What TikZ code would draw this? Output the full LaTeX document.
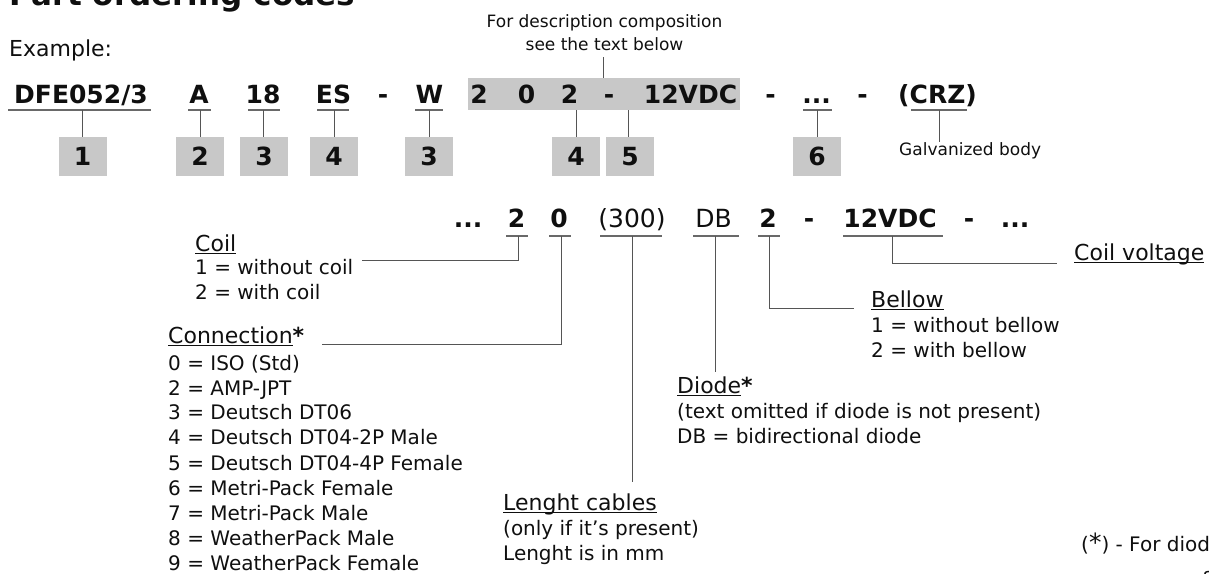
\documentclass[tikz,border=0pt]{standalone}
\usepackage{fontspec}
\setmainfont{DejaVu Sans}
\definecolor{boxgray}{RGB}{200,200,200}
\definecolor{linegray}{RGB}{85,85,85}
\definecolor{ulgray}{RGB}{105,105,105}
\definecolor{txt}{RGB}{15,15,15}
\newcommand\myuline[1]{\setbox0\hbox{#1}\rlap{\rule[-3pt]{\wd0}{1.1pt}}\box0}
\begin{document}
\begin{tikzpicture}[x=1pt,y=-1pt,text=txt,
  code/.style={font=\fontsize{25}{30}\selectfont\bfseries, inner sep=0pt, anchor=base},
  codereg/.style={font=\fontsize{25}{30}\selectfont, inner sep=0pt, anchor=base},
  numbox/.style={fill=boxgray, minimum width=48pt, minimum height=39pt, inner sep=0pt, font=\fontsize{25}{30}\selectfont\bfseries},
  conn/.style={draw=linegray, line width=0.9pt},
  uline/.style={draw=ulgray, line width=1.3pt},
  head/.style={font=\fontsize{22}{26}\selectfont, inner sep=0pt, anchor=base west},
  item/.style={font=\fontsize{20}{25}\selectfont, inner sep=0pt, anchor=base west},
  small/.style={font=\fontsize{17}{20}\selectfont, inner sep=0pt},
]
\useasboundingbox (0,0) rectangle (1209,573);

% title and example
\node[anchor=base west, inner sep=0pt, font=\fontsize{31}{36}\selectfont\bfseries] (title) at (9,5) {Part ordering codes};
\node[head] (example) at (9,56) {Example:};

% description note
\node[small, anchor=base] (desc1) at (604.5,27) {For description composition};
\node[small, anchor=base] (desc2) at (604.5,50) {see the text below};

% gray band
\node[fill=boxgray, minimum width=272pt, minimum height=32pt, inner sep=0pt, anchor=north west] (band) at (468,78) {};
\coordinate (descend) at (603,57);
\draw[conn] (descend) -- (descend |- band.north);

% first code line
\node[code] (cDFE) at (81,103) {DFE052/3};
\node[code] (cA) at (199,103) {A};
\node[code] (c18) at (263,103) {18};
\node[code] (cES) at (333.5,103) {ES};
\node[code] (cd1) at (383,103) {-};
\node[code] (cW) at (429.5,103) {W};
\node[code] (cb2a) at (479,103) {2};
\node[code] (cb0) at (526.5,103) {0};
\node[code] (cb2b) at (569.5,103) {2};
\node[code] (cbd) at (609,103) {-};
\node[code] (cbV) at (690.5,103) {12VDC};
\node[code] (cd2) at (770.5,103) {-};
\node[code] (cdots) at (816.5,103) {...};
\node[code] (cd3) at (862.5,103) {-};
\node[code] (cCRZ) at (937.5,103) {(CRZ)};

% underlines first line
\draw[uline] (8,110) -- (151,110);
\draw[uline] (188,110) -- (211,110);
\draw[uline] (248,110) -- (280,110);
\draw[uline] (317,110) -- (349,110);
\draw[uline] (415,110) -- (443,110);
\draw[uline] (803,110) -- (832,110);
\draw[uline] (911,110) -- (967,110);

% numbered boxes
\node[numbox] (b1) at (82.5,156.5) {1};
\node[numbox] (b2) at (200,156.5) {2};
\node[numbox] (b3) at (264,156.5) {3};
\node[numbox] (b4) at (334,156.5) {4};
\node[numbox] (b3b) at (429,156.5) {3};
\node[numbox] (b4b) at (576,156.5) {4};
\node[numbox] (b5) at (630,156.5) {5};
\node[numbox] (b6) at (817,156.5) {6};

\coordinate (u1) at (82,110);
\coordinate (u2) at (200,110);
\coordinate (u3) at (263,110);
\coordinate (u4) at (334,110);
\coordinate (u3b) at (429,110);
\coordinate (u4b) at (576,110);
\coordinate (u5) at (628,110);
\coordinate (u6) at (817,110);
\coordinate (uCRZ) at (939,110);
\draw[conn] (u1) -- (u1 |- b1.north);
\draw[conn] (u2) -- (u2 |- b2.north);
\draw[conn] (u3) -- (u3 |- b3.north);
\draw[conn] (u4) -- (u4 |- b4.north);
\draw[conn] (u3b) -- (u3b |- b3b.north);
\draw[conn] (u4b) -- (u4b |- b4b.north);
\draw[conn] (u5) -- (u5 |- b5.north);
\draw[conn] (u6) -- (u6 |- b6.north);

\node[small, anchor=base west] (galv) at (899,155) {Galvanized body};
\draw[conn] (uCRZ) -- (uCRZ |- galv.north);

% second code line
\node[code] (l2dots) at (468,227) {...};
\node[code] (l2c2) at (516.5,227) {2};
\node[code] (l2c0) at (559,227) {0};
\node[codereg] (l2len) at (632,227) {(300)};
\node[codereg] (l2db) at (713.5,227) {DB};
\node[code] (l2b) at (768,227) {2};
\node[code] (l2d1) at (809,227) {-};
\node[code] (l2v) at (890,227) {12VDC};
\node[code] (l2d2) at (969,227) {-};
\node[code] (l2end) at (1015,227) {...};

\draw[uline] (506,236) -- (528,236);
\draw[uline] (549,236) -- (571,236);
\draw[uline] (600,236) -- (662,236);
\draw[uline] (693,236) -- (739,236);
\draw[uline] (758,236) -- (780,236);
\draw[uline] (843,236) -- (943,236);

% Coil
\node[head] (coil) at (195,251) {\myuline{Coil}};
\node[item] (coil1) at (195,274) {1 = without coil};
\node[item] (coil2) at (195,299) {2 = with coil};
\coordinate (ucoil) at (518,236);
\coordinate (coilend) at (362,260);
\draw[conn] (ucoil) |- (coilend);

% Connection
\node[head] (conn) at (168,343) {\myuline{Connection}\textbf{*}};
\node[item] (cn0) at (168,370) {0 = ISO (Std)};
\node[item] (cn2) at (168,395) {2 = AMP-JPT};
\node[item] (cn3) at (168,419.5) {3 = Deutsch DT06};
\node[item] (cn4) at (168,444.5) {4 = Deutsch DT04-2P Male};
\node[item] (cn5) at (168,470) {5 = Deutsch DT04-4P Female};
\node[item] (cn6) at (168,495) {6 = Metri-Pack Female};
\node[item] (cn7) at (168,520) {7 = Metri-Pack Male};
\node[item] (cn8) at (168,545) {8 = WeatherPack Male};
\node[item] (cn9) at (168,570) {9 = WeatherPack Female};
\coordinate (uconn) at (561,236);
\coordinate (connend) at (322,344);
\draw[conn] (uconn) |- (connend);

% Length
\node[head] (len) at (503,510) {\myuline{Lenght cables}};
\node[item] (len1) at (503,535) {(only if it{\char"27}s present)};
\node[item] (len2) at (503,560) {Lenght is in mm};
\coordinate (ulen) at (632,236);
\coordinate (lenend) at (632,482);
\draw[conn] (ulen) -- (lenend);

% Diode
\node[head] (diode) at (677,393) {\myuline{Diode}\textbf{*}};
\node[item] (di1) at (677,418) {(text omitted if diode is not present)};
\node[item] (di2) at (677,443) {DB = bidirectional diode};
\coordinate (udiode) at (715,236);
\coordinate (diodeend) at (715,372);
\draw[conn] (udiode) -- (diodeend);

% Bellow
\node[head] (bel) at (871,307) {\myuline{Bellow}};
\node[item] (bel1) at (871,332) {1 = without bellow};
\node[item] (bel2) at (871,357) {2 = with bellow};
\coordinate (ubel) at (769,236);
\coordinate (belend) at (854,308);
\draw[conn] (ubel) |- (belend);

% Coil voltage
\node[head] (cv) at (1074,260) {\myuline{Coil voltage}};
\coordinate (ucv) at (892,236);
\coordinate (cvend) at (1057,263);
\draw[conn] (ucv) |- (cvend);

% footnote
\node[item] (foot) at (1081,551) {({\fontsize{25}{25}\selectfont*}) - For diode};
\node[item] (foot2) at (1203,582) {s};
\end{tikzpicture}
\end{document}
